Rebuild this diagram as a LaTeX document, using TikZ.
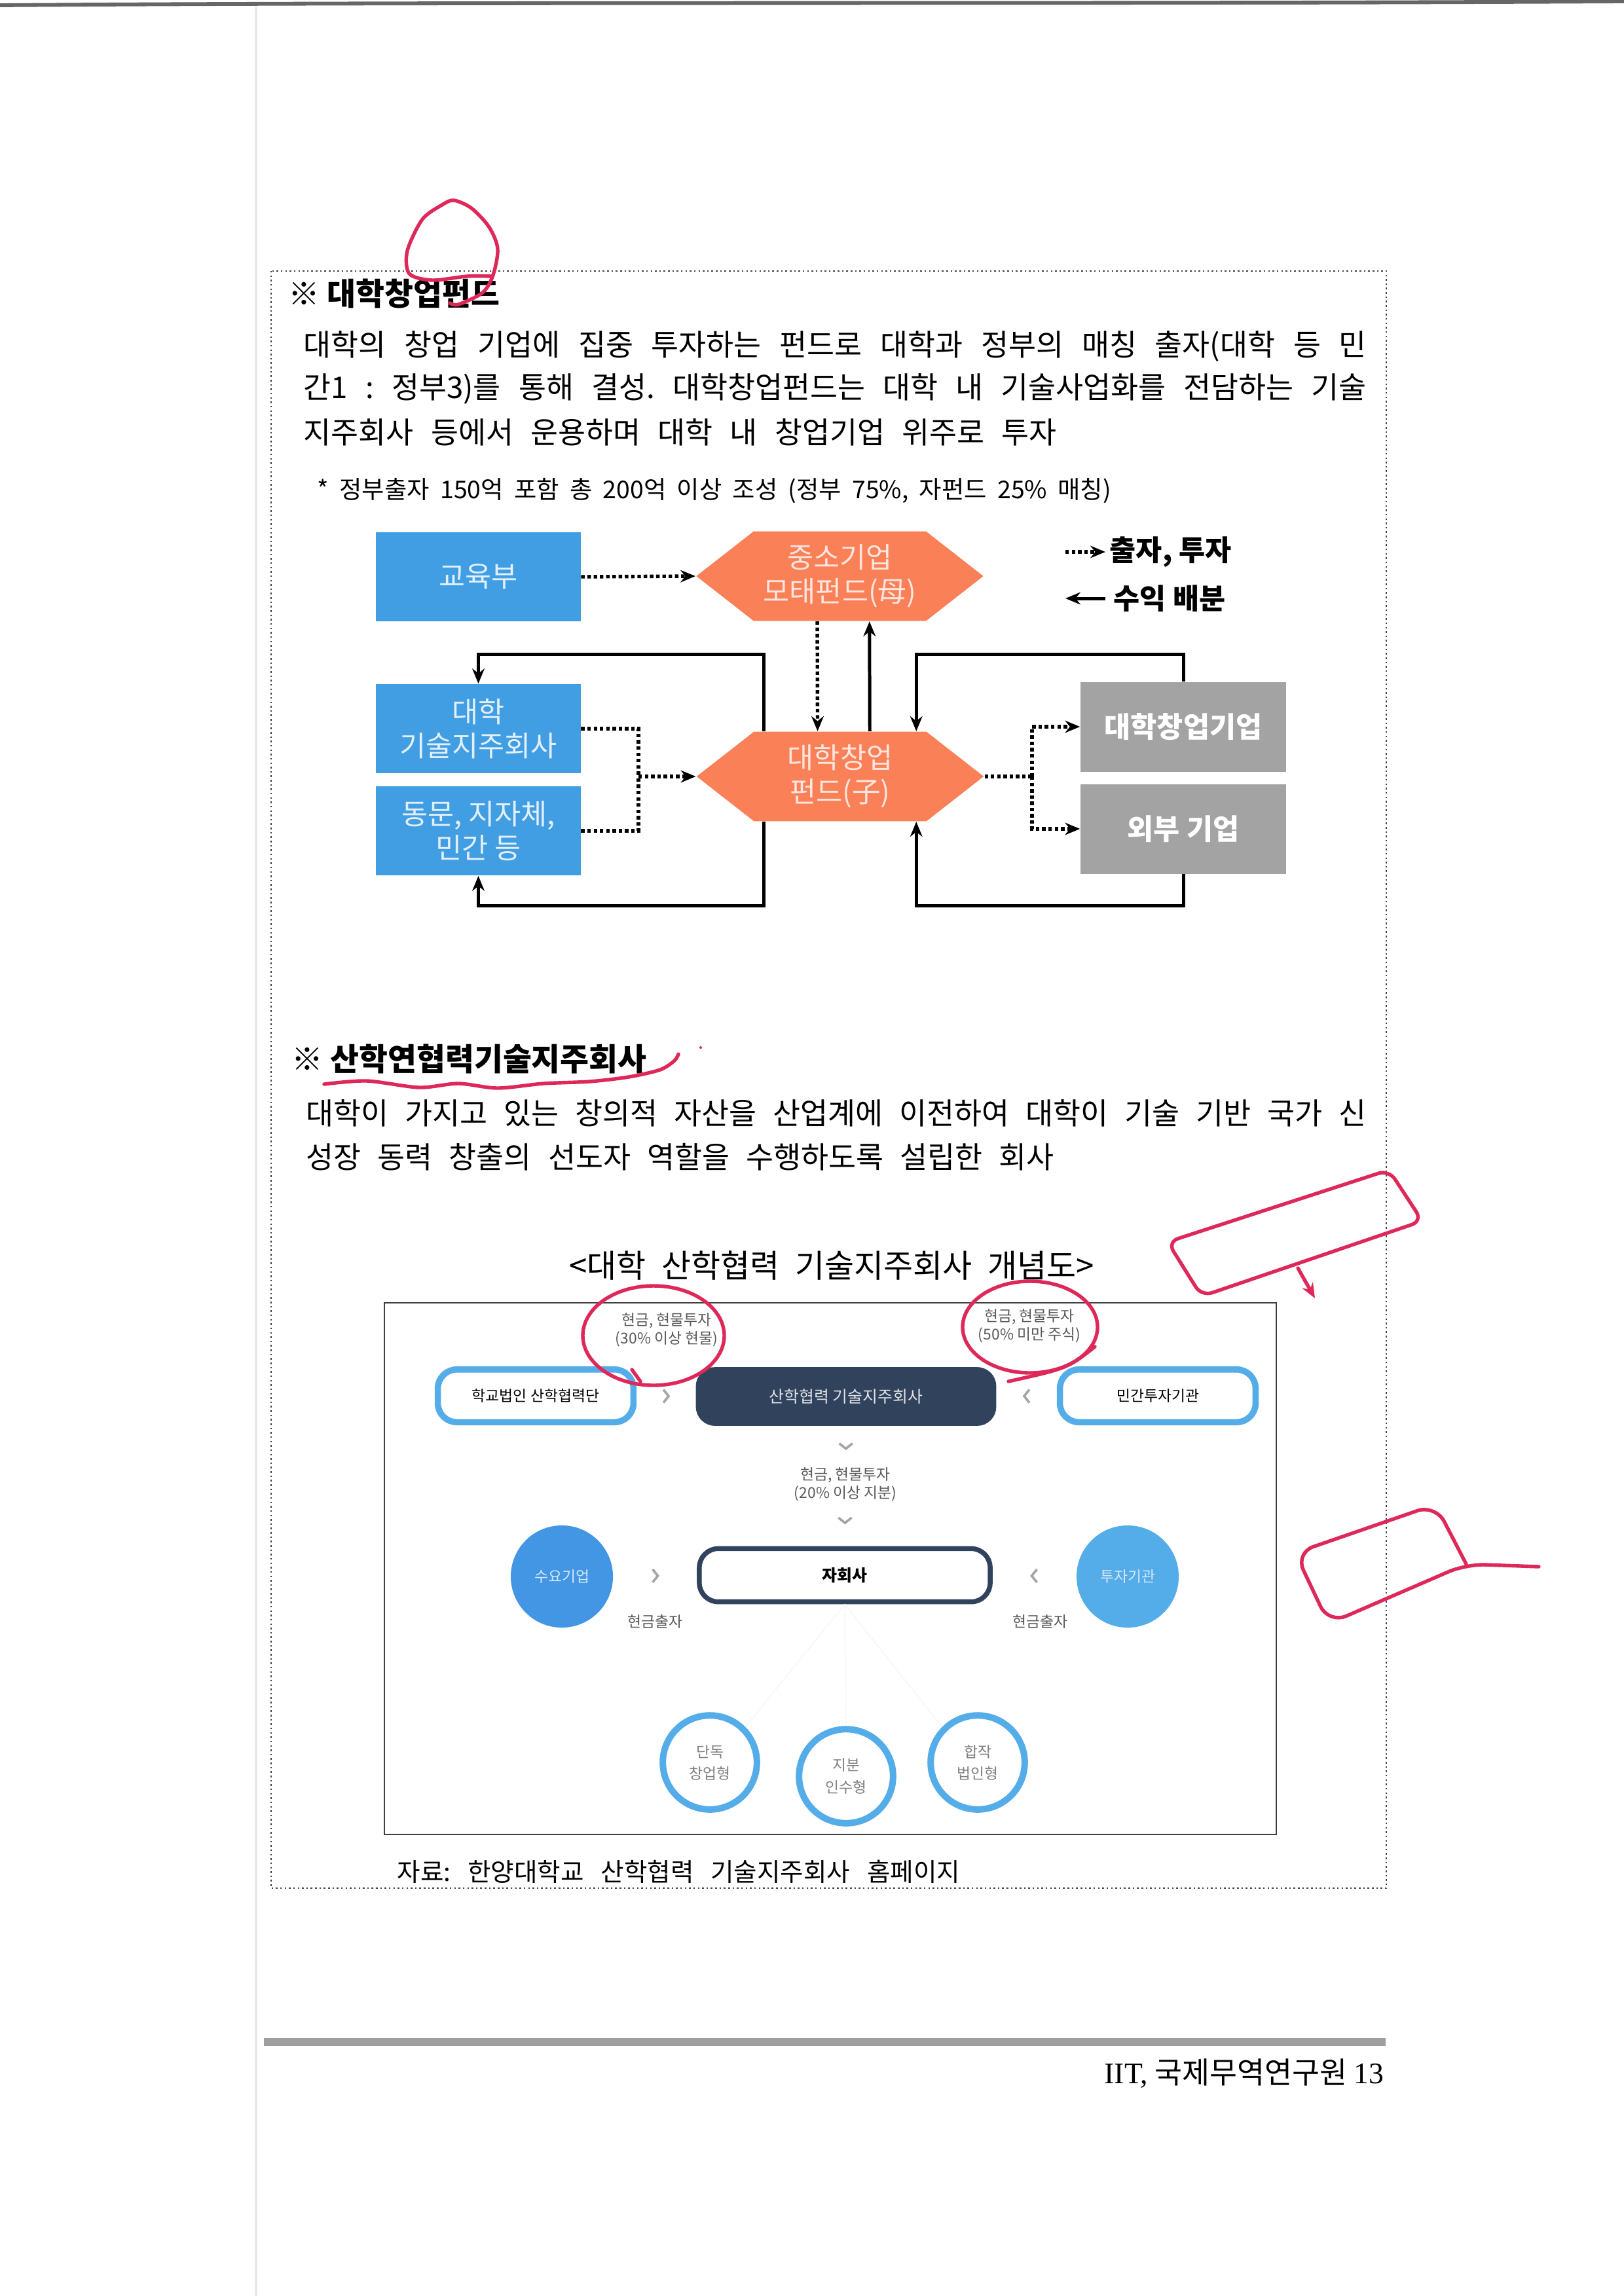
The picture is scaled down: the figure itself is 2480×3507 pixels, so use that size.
\documentclass[tikz,border=0pt]{standalone}
\usepackage{fontspec}
\setmainfont{Noto Sans CJK KR}
\newfontfamily\latinserif{Liberation Serif}
\usetikzlibrary{arrows.meta, calc, shapes.symbols}
\frenchspacing

\definecolor{eduBlue}{RGB}{66,158,226}
\definecolor{fundOrange}{RGB}{250,128,88}
\definecolor{firmGray}{RGB}{163,163,163}
\definecolor{ringBlue}{RGB}{84,172,232}
\definecolor{deepBlue}{RGB}{66,150,228}
\definecolor{holdNavy}{RGB}{48,66,92}
\definecolor{penRed}{RGB}{222,40,90}

\newcommand{\bodysz}{\fontsize{11}{13}\selectfont}
\newcommand{\notesz}{\fontsize{9}{11}\selectfont}
\newcommand{\ttlsz}{\fontsize{11.5}{13}\selectfont\bfseries}
\newcommand{\boxsz}{\fontsize{10.5}{12.5}\selectfont}
\newcommand{\tinysz}{\fontsize{5.5}{6.8}\selectfont}
\newcommand{\fullline}[2]{\makebox[#1][s]{#2}}

\tikzset{
  txt/.style={inner sep=0pt, anchor=west},
  blubox/.style={rectangle, fill=eduBlue, text=white!85!eduBlue, minimum width=75.2pt, minimum height=32.8pt, inner sep=1pt, align=center, font=\boxsz},
  grybox/.style={rectangle, fill=firmGray, text=white, minimum width=75.6pt, minimum height=33pt, inner sep=1pt, align=center, font=\boxsz\bfseries},
  hexa/.style={signal, signal to=east and west, signal pointer angle=76, fill=fundOrange, text=white!80!fundOrange, minimum width=105.6pt, minimum height=32.9pt, inner sep=0pt, align=center, font=\boxsz},
  inv/.style={densely dotted, line width=1.3pt},
  ret/.style={line width=1.2pt},
  keytext/.style={inner sep=0pt, anchor=west, font=\boxsz\bfseries},
  cardbox/.style={rectangle, rounded corners=7pt, draw=ringBlue, line width=2.3pt, fill=white, minimum width=72pt, minimum height=19.4pt, inner sep=0pt, font=\tinysz},
  holdbox/.style={rectangle, rounded corners=7pt, fill=holdNavy, text=white!85!holdNavy, minimum width=110.5pt, minimum height=21.6pt, inner sep=0pt, font=\fontsize{6}{7}\selectfont},
  subbox/.style={rectangle, rounded corners=7pt, draw=holdNavy, line width=1.8pt, fill=white, minimum width=107pt, minimum height=19.6pt, inner sep=0pt, font=\fontsize{6}{7}\selectfont\bfseries},
  dotnode/.style={circle, fill=deepBlue, text=white!78!deepBlue, minimum size=37.6pt, inner sep=0pt, font=\tinysz},
  ringnode/.style={circle, draw=ringBlue, line width=2.4pt, fill=white, text=black!50, minimum size=34.6pt, inner sep=0pt, align=center, font=\fontsize{5.5}{8}\selectfont},
  smalltxt/.style={inner sep=0pt, align=center, text=black!65, font=\tinysz},
  chev/.style={black!35, line width=0.9pt},
  faint/.style={black!3, line width=0.4pt},
  pen/.style={penRed, line width=1.3pt, line cap=round, line join=round}
}

\newcommand{\chevR}[1]{\draw[chev] ($(#1)+(-4,-10)$) -- ++(8,10) -- ++(-8,10);}
\newcommand{\chevL}[1]{\draw[chev] ($(#1)+(4,-10)$) -- ++(-8,10) -- ++(8,10);}
\newcommand{\chevD}[1]{\draw[chev] ($(#1)+(-10,-5)$) -- ++(10,8) -- ++(10,-8);}

\begin{document}
\begin{tikzpicture}[x=0.084677mm, y=-0.084677mm, >={Stealth[length=5.5pt, width=4.5pt]}]

    % ==========================================
    % page, scan edges
    % ==========================================
    \fill[white] (0,0) rectangle (2480,3507);
    \useasboundingbox (0,0) rectangle (2480,3507);
    \draw[black!60, line width=1.4pt] (0,8) .. controls (800,2) and (1600,7) .. (2480,2);
    \draw[black!9, line width=0.8pt] (391,10) -- (391,3507);

    % dotted frame round both sections
    \draw[densely dotted, black!75, line width=0.6pt] (414,414) rectangle (2117,2884);

    % ==========================================
    % 1. university start-up fund
    % ==========================================
    \node[txt, font=\ttlsz] (ttlA) at (440,449) {※ 대학창업펀드};
    \node[txt, font=\bodysz] (bodyA1) at (463,529) {\fullline{391pt}{대학의 창업 기업에 집중 투자하는 펀드로 대학과 정부의 매칭 출자(대학 등 민}};
    \node[txt, font=\bodysz] (bodyA2) at (463,594) {\fullline{391pt}{간1 : 정부3)를 통해 결성. 대학창업펀드는 대학 내 기술사업화를 전담하는 기술}};
    \node[txt, font=\bodysz] (bodyA3) at (463,660) {\fullline{277pt}{지주회사 등에서 운용하며 대학 내 창업기업 위주로 투자}};
    \node[txt, font=\notesz] (noteA) at (484,750) {\fullline{292pt}{* 정부출자 150억 포함 총 200억 이상 조성 (정부 75\%, 자펀드 25\% 매칭)}};

    % boxes and funds
    \node[blubox] (edu) at (730.5,881) {교육부};
    \node[hexa] (mother) at (1282.5,880) {중소기업\\모태펀드(母)};
    \node[blubox] (ventr) at (730.5,1113) {대학\\기술지주회사};
    \node[blubox] (alumni) at (730.5,1269) {동문, 지자체,\\민간 등};
    \node[hexa] (child) at (1283,1186) {대학창업\\펀드(子)};
    \node[grybox] (startup) at (1807,1110) {대학창업기업};
    \node[grybox] (extco) at (1807,1266) {외부 기업};

    % legend
    \coordinate (lgA) at (1627,843);
    \coordinate (lgB) at (1688,843);
    \coordinate (lgC) at (1627,914);
    \coordinate (lgD) at (1688,914);
    \draw[inv,->] (lgA) -- (lgB);
    \draw[ret,->] (lgD) -- (lgC);
    \node[keytext] (lgInv) at (1694,843) {출자, 투자};
    \node[keytext] (lgRet) at (1700,914) {수익 배분};

    % investment (dotted)
    \draw[inv,->] (edu.east) -- (mother.west);
    \draw[inv,->] ([xshift=-8.3pt]mother.south) -- ([xshift=-8.3pt]child.north);
    \coordinate (jnL) at (975,1186);
    \draw[inv] (ventr.east) -| (jnL);
    \draw[inv] (alumni.east) -| (jnL);
    \draw[inv,->] (jnL) -- (child.west);
    \coordinate (jnR) at (1576,1186);
    \draw[inv] (child.east) -- (jnR);
    \draw[inv,->] (jnR) |- (startup.west);
    \draw[inv,->] (jnR) |- (extco.west);

    % returns (solid)
    \draw[ret,->] ([xshift=10.9pt]child.north) -- ([xshift=10.9pt]mother.south);
    \coordinate (lpTL) at (730.5,999);
    \coordinate (lpBL) at (730.5,1383);
    \coordinate (lpTR) at (1807,999);
    \coordinate (lpBR) at (1807,1383);
    \draw[ret,->] ([xshift=-28pt]child.north) |- (lpTL) -- (ventr.north);
    \draw[ret,->] ([xshift=-28pt]child.south) |- (lpBL) -- (alumni.south);
    \draw[ret,->] (startup.north) -- (lpTR) -| ([xshift=28pt]child.north);
    \draw[ret,->] (extco.south) -- (lpBR) -| ([xshift=28pt]child.south);

    % ==========================================
    % 2. technology holding company
    % ==========================================
    \node[txt, font=\ttlsz] (ttlB) at (445,1617) {※ 산학연협력기술지주회사};
    \node[txt, font=\bodysz] (bodyB1) at (467,1700) {\fullline{390pt}{대학이 가지고 있는 창의적 자산을 산업계에 이전하여 대학이 기술 기반 국가 신}};
    \node[txt, font=\bodysz] (bodyB2) at (467,1767) {\fullline{275pt}{성장 동력 창출의 선도자 역할을 수행하도록 설립한 회사}};
    \node[inner sep=0pt, font=\fontsize{11.8}{13}\selectfont] (capB) at (1270,1933) {\fullline{193pt}{<대학 산학협력 기술지주회사 개념도>}};

    \draw[black!75, line width=0.6pt] (587,1990) rectangle (1949,2802);

    \node[cardbox] (uniA) at (818,2132) {학교법인 산학협력단};
    \node[holdbox] (hold) at (1292,2133) {산학협력 기술지주회사};
    \node[cardbox] (priv) at (1768,2132) {민간투자기관};
    \node[subbox] (sub) at (1290,2406) {자회사};
    \node[dotnode] (demand) at (858,2408) {수요기업};
    \node[dotnode, fill=ringBlue] (invest) at (1722,2408) {투자기관};
    \node[ringnode] (ringA) at (1084,2692) {단독\\창업형};
    \node[ringnode] (ringB) at (1292,2713) {지분\\인수형};
    \node[ringnode] (ringC) at (1493,2692) {합작\\법인형};

    \node[smalltxt] (noteL) at (1018,2031) {현금, 현물투자\\(30\% 이상 현물)};
    \node[smalltxt] (noteR) at (1572,2025) {현금, 현물투자\\(50\% 미만 주식)};
    \node[smalltxt] (noteM) at (1291,2267) {현금, 현물투자\\(20\% 이상 지분)};
    \node[smalltxt] (cashL) at (1000,2477) {현금출자};
    \node[smalltxt] (cashR) at (1588,2477) {현금출자};

    \chevR{$(uniA.east)!0.5!(hold.west)$}
    \chevL{$(hold.east)!0.5!(priv.west)$}
    \chevD{$(hold.south)!0.17!(sub.north)$}
    \chevD{$(hold.south)!0.79!(sub.north)$}
    \chevR{$(demand.east)!0.5!(sub.west)$}
    \chevL{$(sub.east)!0.5!(invest.west)$}

    \draw[faint] (sub.south) -- (ringB.north);
    \draw[faint] (sub.south) -- (ringA.north east);
    \draw[faint] (sub.south) -- (ringC.north west);

    \node[txt, font=\fontsize{9.3}{11}\selectfont] (srcB) at (606,2859) {\fullline{207pt}{자료: 한양대학교 산학협력 기술지주회사 홈페이지}};

    % ==========================================
    % footer
    % ==========================================
    \fill[black!38] (403,3113) rectangle (2116,3125);
    \node[inner sep=0pt, anchor=east, font=\fontsize{11}{13}\selectfont] (pgno) at (2114,3167) {{\latinserif IIT,} 국제무역연구원 {\latinserif 13}};

    % ==========================================
    % red pen marks
    % ==========================================
    \draw[pen] plot[smooth] coordinates {(750,422) (713,422) (660,428) (625,418) (622,383) (645,335) (675,313) (693,306) (720,318) (747,347) (760,380) (753,420) (737,447) (700,465) (687,463)};
    \draw[pen] plot[smooth] coordinates {(495,1656) (560,1651) (640,1661) (700,1655) (760,1662) (830,1655) (900,1652) (960,1645) (1008,1634) (1030,1620) (1036,1610)};
    \fill[penRed] (1070,1600) circle (2);
    \draw[pen] (998,2040) ellipse [x radius=108, y radius=76];
    \draw[pen] (965,2092) -- (978,2110);
    \draw[pen] (1573,2027) ellipse [x radius=103, y radius=70];
    \draw[pen] (1672,2057) .. controls (1630,2090) .. (1540,2110);
    \draw[pen, rounded corners=4pt] (1783,1897) -- (2121,1787) -- (2172,1865) -- (1835,1980) -- cycle;
    \draw[pen, ->] (1982,1937) -- (2008,1983);
    \draw[pen, rounded corners=7pt] (2239,2389) -- (2192,2298) -- (1978,2372) -- (2029,2480) -- (2239,2389) -- (2350,2393);

\end{tikzpicture}
\end{document}
